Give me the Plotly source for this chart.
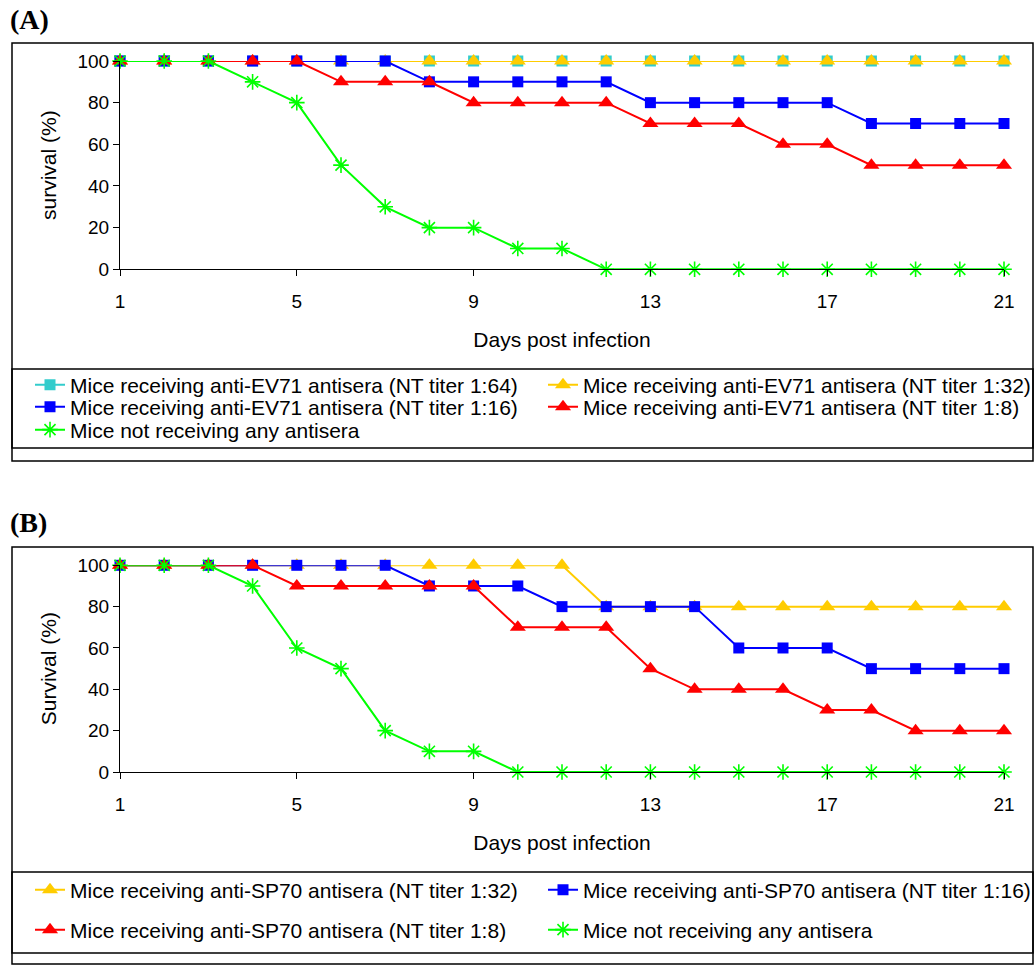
import plotly.graph_objects as go

# ---------------- data ----------------
days = [1, 2, 3, 4, 5, 6, 7, 8, 9, 10, 11, 12, 13, 14, 15, 16, 17, 18, 19, 20, 21]
x_ticks = [1, 5, 9, 13, 17, 21]
y_ticks = [0, 20, 40, 60, 80, 100]

# Panel A: anti-EV71 antisera
a_nt64 = [100, 100, 100, 100, 100, 100, 100, 100, 100, 100, 100, 100, 100, 100, 100, 100, 100, 100, 100, 100, 100]
a_nt32 = [100, 100, 100, 100, 100, 100, 100, 100, 100, 100, 100, 100, 100, 100, 100, 100, 100, 100, 100, 100, 100]
a_nt16 = [100, 100, 100, 100, 100, 100, 100, 90, 90, 90, 90, 90, 80, 80, 80, 80, 80, 70, 70, 70, 70]
a_nt8 = [100, 100, 100, 100, 100, 90, 90, 90, 80, 80, 80, 80, 70, 70, 70, 60, 60, 50, 50, 50, 50]
a_none = [100, 100, 100, 90, 80, 50, 30, 20, 20, 10, 10, 0, 0, 0, 0, 0, 0, 0, 0, 0, 0]

# Panel B: anti-SP70 antisera
b_nt32 = [100, 100, 100, 100, 100, 100, 100, 100, 100, 100, 100, 80, 80, 80, 80, 80, 80, 80, 80, 80, 80]
b_nt16 = [100, 100, 100, 100, 100, 100, 100, 90, 90, 90, 80, 80, 80, 80, 60, 60, 60, 50, 50, 50, 50]
b_nt8 = [100, 100, 100, 100, 90, 90, 90, 90, 90, 70, 70, 70, 50, 40, 40, 40, 30, 30, 20, 20, 20]
b_none = [100, 100, 100, 90, 60, 50, 20, 10, 10, 0, 0, 0, 0, 0, 0, 0, 0, 0, 0, 0, 0]

names_a = [
    "Mice receiving anti-EV71 antisera (NT titer 1:64)",
    "Mice receiving anti-EV71 antisera (NT titer 1:32)",
    "Mice receiving anti-EV71 antisera (NT titer 1:16)",
    "Mice receiving anti-EV71 antisera (NT titer 1:8)",
    "Mice not receiving any antisera",
]
names_b = [
    "Mice receiving anti-SP70 antisera (NT titer 1:32)",
    "Mice receiving anti-SP70 antisera (NT titer 1:16)",
    "Mice receiving anti-SP70 antisera (NT titer 1:8)",
    "Mice not receiving any antisera",
]

CYAN, YELLOW, BLUE, RED, GREEN = "#33CCCC", "#FFCC00", "#0000FF", "#FF0000", "#00FF00"
FONT = "Liberation Sans, Arial, sans-serif"

# ---------------- geometry (pixels -> paper) ----------------
W, H = 1036, 966
ML, MR, MT, MB = 120, 0, 61, 194
PW, PH = W - ML - MR, H - MT - MB
X_END = 1004  # pixel position of day 21


def px(x):
    return (x - ML) / PW


def py(y):
    return 1 - (y - MT) / PH


fig = go.Figure()

STYLE = {
    "sq": dict(symbol="square", size=11),
    "tri": dict(symbol="triangle-up", size=14),
    "ast": dict(symbol="asterisk-open", size=13),
}

legend_layout = {}
COL1, COL2 = 70, 583  # legend text start (px)


def add(xa, ya, y, name, color, mk, idx, pos):
    lname = "legend" if idx == 1 else f"legend{idx}"
    m = dict(color=color, line=dict(color=color, width=1.6 if mk == "ast" else 0), **STYLE[mk])
    fig.add_trace(go.Scatter(
        x=days, y=y, name=name, mode="lines+markers",
        line=dict(color=color, width=2), marker=m,
        xaxis=xa, yaxis=ya, legend=lname, cliponaxis=False,
    ))
    xt, yc = pos
    legend_layout[lname] = dict(
        orientation="v", x=px(xt - 40), xanchor="left", y=py(yc), yanchor="middle",
        bgcolor="rgba(0,0,0,0)", borderwidth=0,
        font=dict(family=FONT, size=21, color="black"),
    )


add("x", "y", a_nt64, names_a[0], CYAN, "sq", 1, (COL1, 385))
add("x", "y", a_nt32, names_a[1], YELLOW, "tri", 2, (COL2, 385))
add("x", "y", a_nt16, names_a[2], BLUE, "sq", 3, (COL1, 407))
add("x", "y", a_nt8, names_a[3], RED, "tri", 4, (COL2, 407))
add("x", "y", a_none, names_a[4], GREEN, "ast", 5, (COL1, 430))

add("x2", "y2", b_nt32, names_b[0], YELLOW, "tri", 6, (COL1, 890))
add("x2", "y2", b_nt16, names_b[1], BLUE, "sq", 7, (COL2, 890))
add("x2", "y2", b_nt8, names_b[2], RED, "tri", 8, (COL1, 930))
add("x2", "y2", b_none, names_b[3], GREEN, "ast", 9, (COL2, 930))

axis_common = dict(
    showgrid=False, zeroline=False, showline=True, linecolor="black", linewidth=1,
    ticks="outside", ticklen=6, tickcolor="black", tickwidth=1,
    tickfont=dict(family=FONT, size=19, color="black"),
)

xa = dict(axis_common, range=[1, 21], tickvals=x_ticks, domain=[0, px(X_END)],
          ticklabelstandoff=9,
          title=dict(text="Days post infection", font=dict(family=FONT, size=21, color="black"), standoff=21))
ya = dict(axis_common, range=[0, 100], tickvals=y_ticks,
          title=dict(font=dict(family=FONT, size=21, color="black"), standoff=15))

fig.update_layout(
    xaxis=dict(xa, anchor="y"),
    yaxis=dict(ya, domain=[py(269.3), 1], anchor="x", title_text="survival (%)"),
    xaxis2=dict(xa, anchor="y2"),
    yaxis2=dict(ya, domain=[0, py(565.3)], anchor="x2", title_text="Survival (%)"),
    **legend_layout,
)

shapes = []
for (y0, y1) in [(43, 461), (369, 448), (547, 964), (872, 953)]:
    shapes.append(dict(type="rect", xref="paper", yref="paper",
                       x0=px(12), x1=px(1033), y0=py(y0), y1=py(y1),
                       line=dict(color="black", width=1.5), fillcolor="rgba(0,0,0,0)", layer="below"))

annotations = [
    dict(text="<b>(A)</b>", x=px(8), y=py(20), xref="paper", yref="paper",
         xanchor="left", yanchor="middle", showarrow=False,
         font=dict(family="Liberation Serif, Times New Roman, serif", size=28, color="black")),
    dict(text="<b>(B)</b>", x=px(8), y=py(522), xref="paper", yref="paper",
         xanchor="left", yanchor="middle", showarrow=False,
         font=dict(family="Liberation Serif, Times New Roman, serif", size=28, color="black")),
]

fig.update_layout(
    width=W, height=H,
    margin=dict(l=ML, r=MR, t=MT, b=MB, autoexpand=False),
    paper_bgcolor="white", plot_bgcolor="white",
    shapes=shapes, annotations=annotations,
    showlegend=True,
    font=dict(family=FONT, color="black"),
)

fig.write_html("out.html")
